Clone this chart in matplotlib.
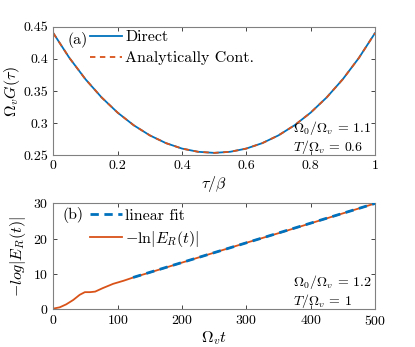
import numpy as np
import matplotlib
matplotlib.use('Agg')
from matplotlib import pyplot as plt

plt.rcParams['font.family'] = 'cmr10'
plt.rcParams['mathtext.fontset'] = 'cm'
plt.rcParams['axes.formatter.use_mathtext'] = True
plt.rcParams['axes.unicode_minus'] = False

# panel (a): G(tau)
tau = [0.0, 0.05, 0.1, 0.15, 0.2, 0.25, 0.3, 0.35, 0.4, 0.45, 0.5,
       0.55, 0.6, 0.65, 0.7, 0.75, 0.8, 0.85, 0.9, 0.95, 1.0]
G_direct = [0.440, 0.4015, 0.3684, 0.3402, 0.3165, 0.2969, 0.2812, 0.2692, 0.2607, 0.2557, 0.254,
            0.2557, 0.2607, 0.2692, 0.2812, 0.2969, 0.3165, 0.3402, 0.3684, 0.4015, 0.440]
G_cont = list(G_direct)

# panel (b): -ln|E_R(t)|
t = [0, 10, 20, 31, 41, 49, 57, 65, 77, 93, 109, 126, 150, 200, 250, 300, 350, 400, 450, 500]
lnE = [0.2, 0.57, 1.4, 2.65, 4.1, 4.85, 4.85, 5.0, 6.0, 7.2, 8.06, 9.1, 10.4, 13.2, 16.0, 18.8, 21.5, 24.3, 27.1, 29.9]
t_fit = [124, 500]
fit = [9.0, 29.9]

blue = '#0072BD'
orange = '#D95319'
fs = 11.5
fs_note = 10

fig = plt.figure(figsize=(4.15, 3.47), dpi=100)
ax1 = fig.add_axes([0.1285, 0.552, 0.775, 0.371])
ax2 = fig.add_axes([0.1285, 0.1086, 0.775, 0.306])

for ax in [ax1, ax2]:
    ax.tick_params(direction='in', top=True, right=True, labelsize=10, length=3, color='#262626', width=0.6)
    for s in ax.spines.values():
        s.set_color('#808080')
        s.set_linewidth(0.8)

ax1.plot(tau, G_direct, color=blue, lw=1.3, label='Direct')
ax1.plot(tau, G_cont, color=orange, lw=1.3, ls=(0, (3, 2.5)), label='Analytically Cont.')
ax1.set_xlim(0, 1)
ax1.set_ylim(0.25, 0.45)
ax1.set_xticks([0, 0.2, 0.4, 0.6, 0.8, 1])
ax1.set_xticklabels(['0', '0.2', '0.4', '0.6', '0.8', '1'])
ax1.set_yticks([0.25, 0.3, 0.35, 0.4, 0.45])
ax1.set_yticklabels(['0.25', '0.3', '0.35', '0.4', '0.45'])
ax1.set_xlabel(r'$\tau/\beta$', fontsize=fs, labelpad=1)
ax1.set_ylabel(r'$\Omega_v G(\tau)$', fontsize=fs, labelpad=1)
ax1.legend(loc='upper left', bbox_to_anchor=(0.115, 0.975), frameon=False, fontsize=fs,
           handlelength=2.0, handletextpad=0.2, borderpad=0, borderaxespad=0, labelspacing=0.45)
ax1.text(0.045, 0.9, '(a)', transform=ax1.transAxes, fontsize=fs, va='center')
ax1.text(0.745, 0.14, '$\\Omega_0/\\Omega_v \\,=\\, 1.1$\n$T/\\Omega_v \\,=\\, 0.6$', transform=ax1.transAxes,
         fontsize=fs_note, va='center', ha='left', linespacing=1.1)

ax2.plot(t, lnE, color=orange, lw=1.3, label=r'$-\ln|E_R(t)|$', zorder=2)
ax2.plot(t_fit, fit, color=blue, lw=2, ls=(0, (3, 2)), label='linear fit', zorder=3)
ax2.set_xlim(0, 500)
ax2.set_ylim(0, 30)
ax2.set_xticks([0, 100, 200, 300, 400, 500])
ax2.set_yticks([0, 10, 20, 30])
ax2.set_xlabel(r'$\Omega_v t$', fontsize=fs, labelpad=1)
ax2.set_ylabel(r'$-log|E_R(t)|$', fontsize=fs, labelpad=4)
h, l = ax2.get_legend_handles_labels()
ax2.legend(h[::-1], l[::-1], loc='upper left', bbox_to_anchor=(0.115, 0.95), frameon=False, fontsize=fs,
           handlelength=2.0, handletextpad=0.2, borderpad=0, borderaxespad=0, labelspacing=0.4)
ax2.text(0.03, 0.885, '(b)', transform=ax2.transAxes, fontsize=fs, va='center')
ax2.text(0.745, 0.17, '$\\Omega_0/\\Omega_v \\,=\\, 1.2$\n$T/\\Omega_v \\,=\\, 1$', transform=ax2.transAxes,
         fontsize=fs_note, va='center', ha='left', linespacing=1.1)

plt.savefig('out.png', dpi=100)
